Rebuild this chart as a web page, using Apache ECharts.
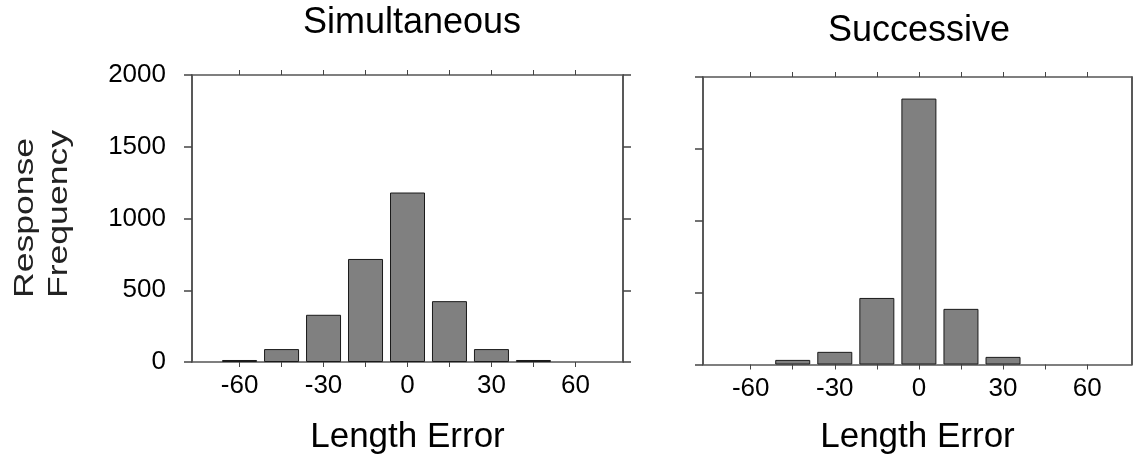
<!DOCTYPE html>
<html>
<head>
<meta charset="utf-8">
<script src="https://cdn.jsdelivr.net/npm/echarts@6/dist/echarts.min.js"></script>
<style>html,body{margin:0;padding:0;background:#fff}#c{width:1136px;height:460px}</style>
</head>
<body>
<div id="c"></div>
<script>
// Data
var binCenters = [-60, -45, -30, -15, 0, 15, 30, 45, 60];
var simultaneous = [14, 90, 329, 718, 1181, 424, 90, 14, 0];
var successive = [0, 32, 88, 463, 1850, 387, 53, 0, 0];
var xTickValues = [-60, -45, -30, -15, 0, 15, 30, 45, 60];
var xLabelValues = [-60, -30, 0, 30, 60];
var titles = ['Simultaneous', 'Successive'];
var xName = 'Length Error';
var yName = 'Response\nFrequency';

var FONT = 'Liberation Sans, Arial, sans-serif';
function pairs(vals){
  var out = [];
  binCenters.forEach(function(x,i){ if (vals[i] > 0) out.push([x, vals[i]]); });
  return out;
}

function xAx(grid, pos, min, max, withLabels){
  return {
    type:'value', gridIndex:grid, position:pos, min:min, max:max,
    splitLine:{show:false},
    axisLine:{show:true, onZero:false, lineStyle:{color:'#555', width:1.5}},
    axisTick:{show:true, inside:false, length:5, customValues:xTickValues, lineStyle:{color:'#444', width:1}},
    axisLabel:{show:withLabels, customValues:xLabelValues, fontFamily:FONT, fontSize:26, color:'#000', margin:11},
    name: withLabels ? xName : '', nameLocation:'middle', nameGap: grid===0 ? 58 : 55.5,
    nameTextStyle:{fontFamily:FONT, fontSize:35, color:'#000'}
  };
}
function yAx(grid, pos, withLabels, withTicks){
  return {
    type:'value', gridIndex:grid, position:pos, min:0, max:2000, interval:500,
    splitLine:{show:false},
    axisLine:{show:true, onZero:false, lineStyle:{color:'#222', width:1.5}},
    axisTick:{show:withTicks, inside:false, length:8, lineStyle:{color:'#444', width:1.5}},
    axisLabel:{show:withLabels, fontFamily:FONT, fontSize:26, color:'#000', margin:26,
      formatter:function(v){ return String(v); }}
  };
}

var chart = echarts.init(document.getElementById('c'), null, {renderer:'canvas'});
chart.setOption({
  animation:false,
  backgroundColor:'#fff',
  grid:[
    {left:192, right:513, top:75, bottom:97},
    {left:703, right:4, top:77, bottom:95}
  ],
  xAxis:[
    xAx(0,'bottom',-77,77,true),
    xAx(0,'top',-77,77,false),
    xAx(1,'bottom',-77,76,true),
    xAx(1,'top',-77,76,false)
  ],
  yAxis:[
    yAx(0,'left',true,true),
    yAx(0,'right',false,true),
    yAx(1,'left',false,true),
    yAx(1,'right',false,false)
  ],
  graphic:[
    {type:'text', x:412, y:5, style:{text:titles[0], font:'36px '+FONT, fill:'#000', textAlign:'center', textVerticalAlign:'top'}},
    {type:'text', x:919, y:13, style:{text:titles[1], font:'36px '+FONT, fill:'#000', textAlign:'center', textVerticalAlign:'top'}},
    {type:'text', x:8, y:298, rotation:Math.PI/2, scaleX:1.27, scaleY:1,
     style:{text:yName, font:'28px '+FONT, fill:'#222', textAlign:'left', textVerticalAlign:'top', lineHeight:34}}
  ],
  series:[
    {type:'bar', xAxisIndex:0, yAxisIndex:0, barWidth:35, data:pairs(simultaneous),
     itemStyle:{color:'#808080', borderColor:'#1a1a1a', borderWidth:1}},
    {type:'bar', xAxisIndex:2, yAxisIndex:2, barWidth:35, data:pairs(successive),
     itemStyle:{color:'#808080', borderColor:'#1a1a1a', borderWidth:1}}
  ]
});
</script>
</body>
</html>
